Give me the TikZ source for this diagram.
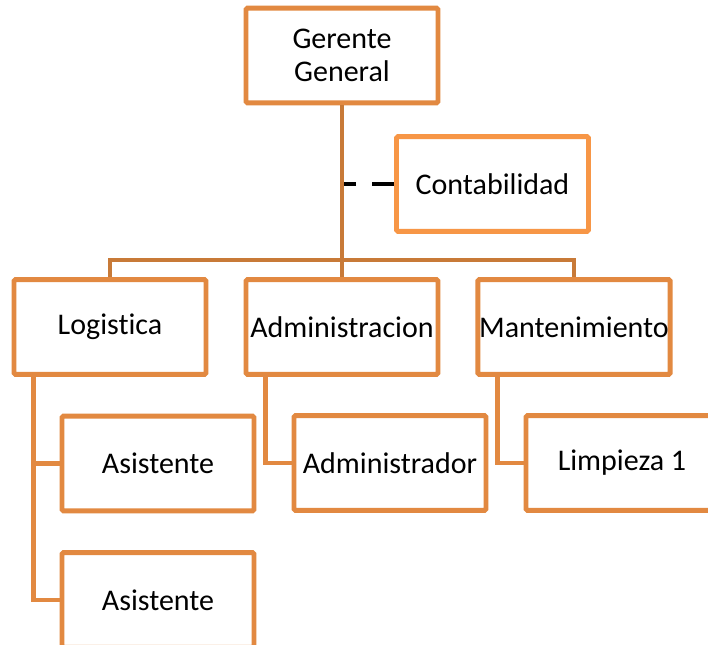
\documentclass[tikz,border=0pt]{standalone}
\usepackage{fontspec}
\setmainfont[Ligatures=NoCommon]{Carlito}
\usetikzlibrary{calc}
\definecolor{boxor}{RGB}{226,137,65}
\definecolor{lineor}{RGB}{200,122,56}
\definecolor{contor}{RGB}{247,150,70}
\begin{document}
\begin{tikzpicture}[x=0.75pt,y=-0.75pt,
  box/.style={draw=boxor, line width=3.7pt, fill=white, minimum width=144pt, minimum height=71pt,
    inner sep=1pt, rounded corners=1pt, align=center, font=\fontsize{22.5}{25}\selectfont},
  conn/.style={draw=lineor, line width=3.4pt, line join=miter},
  sub/.style={draw=boxor, line width=3.5pt, line join=miter}]
\clip (0,0) rectangle (708,644);
\fill[white] (0,0) rectangle (708,644);
\node[box] (g) at (342,55.5) {Gerente\\General};
\node[box, draw=contor] (c) at (492.5,184) {Contabilidad};
\node[box] (log) at (110,327) {Logistica};
\node[box] (adm) at (342,327) {Administracion};
\node[box] (man) at (574,327) {Mantenimiento};
\node[box] (as1) at (158,463.5) {Asistente};
\node[box] (as2) at (158,600) {Asistente};
\node[box] (ad) at (390,463) {Administrador};
\node[box] (lim) at (622,463) {Limpieza 1};
\draw[conn] (g.south) -- (adm.north);
\draw[conn] (log.north) -- ++(0,-17) -| (man.north);
\draw[sub] ($(log.south west)+(22,0)$) |- (as1.west);
\draw[sub] ($(log.south west)+(22,0)$) |- (as2.west);
\draw[sub] ($(adm.south west)+(22,0)$) |- (ad.west);
\draw[sub] ($(man.south west)+(22,0)$) |- (lim.west);
\draw[black, line width=3pt, dash pattern=on 16.5pt off 12pt] (c.west) -- ($(g.south |- c.west)+(2,0)$);
\end{tikzpicture}
\end{document}
